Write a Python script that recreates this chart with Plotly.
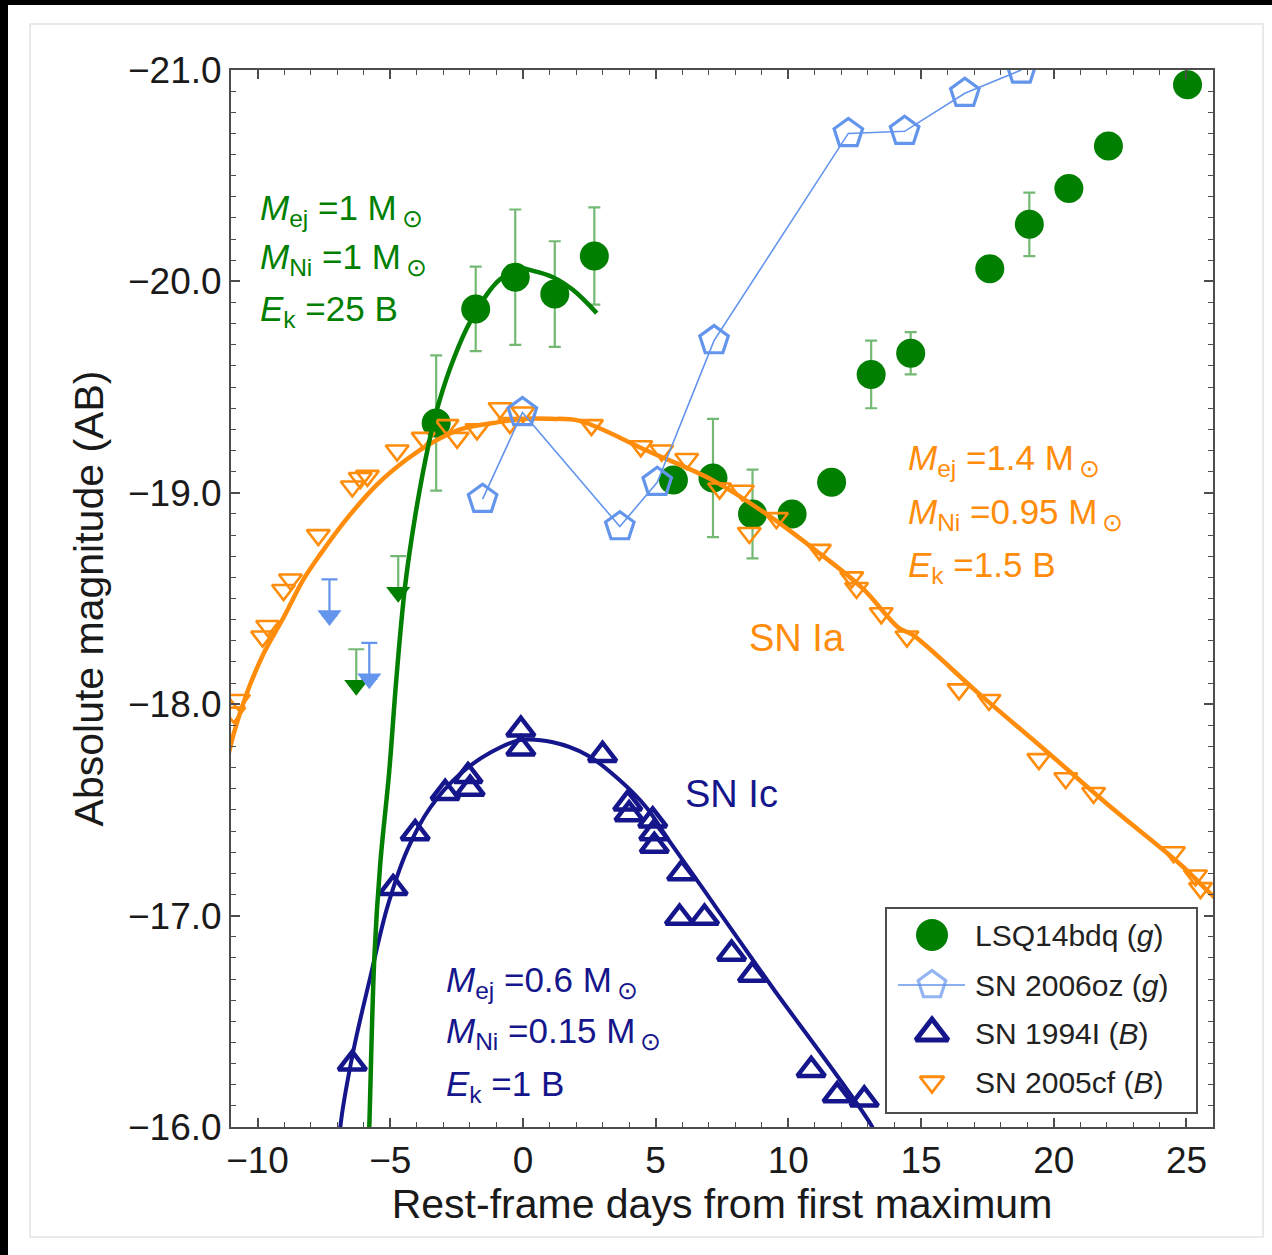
import plotly.graph_objects as go

# ---------------- data ----------------
# LSQ14bdq (g band): rest-frame days, absolute magnitude, 1-sigma errors (0 = none shown)
lsq_days = [-3.27, -1.78, -0.29, 1.20, 2.69, 5.67, 7.16, 8.65, 10.14, 11.63,
            13.12, 14.61, 17.59, 19.08, 20.57, 22.06, 25.04]
lsq_mag = [-19.33, -19.87, -20.02, -19.94, -20.12, -19.06, -19.07, -18.90, -18.90, -19.05,
           -19.56, -19.66, -20.06, -20.27, -20.44, -20.64, -20.93]
lsq_err = [0.32, 0.20, 0.32, 0.25, 0.23, 0, 0.28, 0.21, 0, 0,
           0.16, 0.10, 0, 0.15, 0, 0, 0]

# LSQ14bdq pre-discovery upper limits
lsq_lim_days = [-4.70, -6.28]
lsq_lim_mag = [-18.70, -18.26]

# SN 2006oz (g band)
oz_days = [-1.52, -0.02, 3.65, 5.06, 7.20, 12.26, 14.38, 16.65, 18.78]
oz_mag = [-18.97, -19.38, -18.84, -19.05, -19.72, -20.70, -20.71, -20.89, -21.00]
oz_lim_days = [-7.29, -5.79]
oz_lim_mag = [-18.59, -18.29]

# SN 1994I (B band)
ic_days = [-6.43, -4.89, -4.06, -2.93, -2.07, -1.99, -0.08, -0.08, 3.00, 3.95, 4.00,
           4.89, 4.93, 4.95, 5.98, 5.90, 6.84, 7.86, 8.65, 10.86, 11.84, 12.86]
ic_mag = [-16.30, -17.13, -17.39, -17.58, -17.66, -17.60, -17.88, -17.79, -17.76, -17.53, -17.48,
          -17.45, -17.39, -17.33, -17.20, -16.99, -16.99, -16.82, -16.72, -16.27, -16.15, -16.13]

# SN 2005cf (B band)
ia_days = [-10.90, -10.72, -9.81, -9.62, -9.02, -8.76, -7.71, -6.43, -6.13, -5.86,
           -4.74, -3.76, -2.86, -2.48, -1.73, -0.86, -0.49, 0.00, 2.58, 4.44,
           5.23, 6.17, 7.41, 8.27, 8.53, 9.55, 11.17, 12.39, 12.57, 13.50,
           14.47, 16.43, 17.56, 19.44, 20.45, 21.50, 24.51, 25.34, 25.53]
ia_mag = [-17.96, -18.02, -18.32, -18.37, -18.54, -18.59, -18.80, -19.03, -19.07, -19.08,
          -19.20, -19.26, -19.32, -19.26, -19.30, -19.40, -19.33, -19.38, -19.32, -19.22,
          -19.20, -19.16, -19.02, -19.01, -18.81, -18.88, -18.73, -18.60, -18.55, -18.43,
          -18.32, -18.07, -18.02, -17.74, -17.65, -17.58, -17.30, -17.19, -17.13]

# Model light curves (sampled)
mod_lsq_days = [-5.82, -5.79, -5.60, -5.38, -5.04, -4.77, -4.44, -4.06, -3.57, -3.27, -2.74,
                -2.11, -1.35, -0.86, -0.11, 0.38, 1.13, 1.88, 2.78]
mod_lsq_mag = [-15.90, -16.00, -16.80, -17.24, -17.68, -18.12, -18.56, -18.89, -19.22, -19.38, -19.59,
               -19.78, -19.94, -20.01, -20.06, -20.05, -20.02, -19.96, -19.85]

mod_ic_days = [-6.92, -6.88, -6.39, -5.75, -5.11, -4.36, -3.50, -2.37, -1.24, -0.11, 1.13,
               2.41, 3.65, 4.66, 5.53, 6.77, 8.16, 9.40, 13.16, 13.30]
mod_ic_mag = [-15.85, -16.00, -16.36, -16.71, -17.04, -17.31, -17.51, -17.67, -17.77, -17.83, -17.82,
              -17.76, -17.64, -17.51, -17.35, -17.13, -16.88, -16.66, -16.00, -15.95]

mod_ia_days = [-11.2, -10.90, -10.38, -9.77, -9.02, -8.27, -7.63, -6.62, -5.49, -4.36, -3.38,
               -2.37, -1.13, 0.00, 1.02, 2.14, 4.66, 7.14, 9.17, 10.90, 12.78,
               14.17, 14.66, 17.18, 19.70, 22.18, 24.70, 25.94, 26.3]
mod_ia_mag = [-17.70, -17.86, -18.06, -18.24, -18.41, -18.59, -18.71, -18.88, -19.04, -19.16, -19.24,
              -19.30, -19.33, -19.35, -19.35, -19.34, -19.20, -19.06, -18.90, -18.74, -18.55,
              -18.36, -18.33, -18.05, -17.78, -17.51, -17.25, -17.10, -17.06]

legend_names = ["LSQ14bdq (<i>g</i>)", "SN 2006oz (<i>g</i>)", "SN 1994I (<i>B</i>)", "SN 2005cf (<i>B</i>)"]

# ---------------- style ----------------
GREEN = "#007F00"
GREEN_ERR = "rgba(0,128,0,0.55)"
LBLUE = "#6495ED"
NAVY = "#16168C"
ORANGE = "#FF8C0A"
AXIS = "#4d4d4d"
FONT = "Liberation Sans"
LIM_LEN = 0.17  # length of the upper-limit arrow stem (mag)

W, H = 1272, 1255
L, R, T, B = 231, 1213, 70, 1127   # plot-area edges in pixels


def px_x(px):
    return (px - L) / (R - L)


def px_y(py):
    return (B - py) / (B - T)


fig = go.Figure()

# SN Ic model and data
fig.add_trace(go.Scatter(x=mod_ic_days, y=mod_ic_mag, mode="lines",
                         line=dict(color=NAVY, width=4, shape="spline"), showlegend=False))
fig.add_trace(go.Scatter(x=ic_days, y=ic_mag, mode="markers",
                         marker=dict(symbol="triangle-up-open", size=24, color=NAVY,
                                     line=dict(width=4.5, color=NAVY)), showlegend=False))

# LSQ14bdq points with error bars
fig.add_trace(go.Scatter(x=lsq_days, y=lsq_mag, mode="markers",
                         marker=dict(symbol="circle", size=29, color=GREEN),
                         error_y=dict(type="data", array=lsq_err, color=GREEN_ERR,
                                      thickness=2.2, width=6),
                         showlegend=False))

# SN Ia model and data
fig.add_trace(go.Scatter(x=mod_ia_days, y=mod_ia_mag, mode="lines",
                         line=dict(color=ORANGE, width=4.5, shape="spline"), showlegend=False))
fig.add_trace(go.Scatter(x=ia_days, y=ia_mag, mode="markers",
                         marker=dict(symbol="triangle-down-open", size=20, color=ORANGE,
                                     line=dict(width=2.6, color=ORANGE)), showlegend=False))

# LSQ14bdq magnetar model
fig.add_trace(go.Scatter(x=mod_lsq_days, y=mod_lsq_mag, mode="lines",
                         line=dict(color=GREEN, width=4.5, shape="spline"), showlegend=False))

# upper limits: arrow stem from the limit down to a filled head
for d, m, col, ecol in [(lsq_lim_days, lsq_lim_mag, GREEN, GREEN_ERR),
                        (oz_lim_days, oz_lim_mag, LBLUE, LBLUE)]:
    fig.add_trace(go.Scatter(
        x=d, y=[v + LIM_LEN for v in m], mode="markers",
        marker=dict(symbol="triangle-down", size=21, color=col),
        error_y=dict(type="data", symmetric=False, array=[0] * len(m),
                     arrayminus=[LIM_LEN] * len(m), color=ecol, thickness=2.2, width=8),
        showlegend=False))

# SN 2006oz
fig.add_trace(go.Scatter(x=oz_days, y=oz_mag, mode="lines+markers",
                         line=dict(color=LBLUE, width=1.6),
                         marker=dict(symbol="pentagon-open", size=30, color=LBLUE,
                                     line=dict(width=3.2, color=LBLUE)), showlegend=False))

# ---------------- legend key (drawn on a small overlay subplot) ----------------
LG = (886, 908, 1197, 1113)         # box in pixels
LG_W, LG_H = LG[2] - LG[0], LG[3] - LG[1]
row_y = [27, 77, 125, 174]
sym_x, txt_x = 46, 87

fig.add_trace(go.Scatter(x=[sym_x], y=[row_y[0]], mode="markers", xaxis="x2", yaxis="y2",
                         marker=dict(symbol="circle", size=32, color=GREEN), showlegend=False))
fig.add_trace(go.Scatter(x=[12, sym_x, 79], y=[row_y[1]] * 3, mode="lines+markers", xaxis="x2", yaxis="y2",
                         line=dict(color=LBLUE, width=1.6),
                         marker=dict(symbol="pentagon-open", size=[0, 29, 0], color=LBLUE,
                                     line=dict(width=3.2, color=LBLUE)), showlegend=False))
fig.add_trace(go.Scatter(x=[sym_x], y=[row_y[2]], mode="markers", xaxis="x2", yaxis="y2",
                         marker=dict(symbol="triangle-up-open", size=28, color=NAVY,
                                     line=dict(width=5, color=NAVY)), showlegend=False))
fig.add_trace(go.Scatter(x=[sym_x], y=[row_y[3]], mode="markers", xaxis="x2", yaxis="y2",
                         marker=dict(symbol="triangle-down-open", size=21, color=ORANGE,
                                     line=dict(width=2.8, color=ORANGE)), showlegend=False))

annotations = []
for name, yy in zip(legend_names, row_y):
    annotations.append(dict(x=txt_x, y=yy, xref="x2", yref="y2", text=name, showarrow=False,
                            xanchor="left", yanchor="middle",
                            font=dict(family=FONT, size=30, color="#222222")))

# ---------------- model parameter labels ----------------
def param_lines(x0, ys, lines, color):
    for yy, txt in zip(ys, lines):
        annotations.append(dict(x=x0, y=yy, xref="x", yref="y", text=txt, showarrow=False,
                                xanchor="left", yanchor="middle",
                                font=dict(family=FONT, size=35, color=color)))


SUN = "<sub>\u2009\u2299</sub>"
param_lines(-10.0, [-20.34, -20.105, -19.86],
            ["<i>M</i><sub>ej</sub> =1 M" + SUN,
             "<i>M</i><sub>Ni</sub> =1 M" + SUN,
             "<i>E</i><sub>k</sub> =25 B"], GREEN)
param_lines(14.44, [-19.153, -18.90, -18.65],
            ["<i>M</i><sub>ej</sub> =1.4 M" + SUN,
             "<i>M</i><sub>Ni</sub> =0.95 M" + SUN,
             "<i>E</i><sub>k</sub> =1.5 B"], ORANGE)
param_lines(-2.97, [-16.687, -16.445, -16.194],
            ["<i>M</i><sub>ej</sub> =0.6 M" + SUN,
             "<i>M</i><sub>Ni</sub> =0.15 M" + SUN,
             "<i>E</i><sub>k</sub> =1 B"], NAVY)

annotations.append(dict(x=8.46, y=-18.315, xref="x", yref="y", text="SN Ia", showarrow=False,
                        xanchor="left", yanchor="middle", font=dict(family=FONT, size=38, color=ORANGE)))
annotations.append(dict(x=6.02, y=-17.577, xref="x", yref="y", text="SN Ic", showarrow=False,
                        xanchor="left", yanchor="middle", font=dict(family=FONT, size=38, color=NAVY)))

# ---------------- page decorations ----------------
shapes = [
    # black strips along the top and left edges of the page
    dict(type="rect", xref="paper", yref="paper", x0=px_x(-5), x1=px_x(W + 5), y0=px_y(5), y1=px_y(-5),
         fillcolor="black", line=dict(width=0), layer="below"),
    dict(type="rect", xref="paper", yref="paper", x0=px_x(-5), x1=px_x(8), y0=px_y(H + 5), y1=px_y(-5),
         fillcolor="black", line=dict(width=0), layer="below"),
    # faint frame around the graphic
    dict(type="rect", xref="paper", yref="paper", x0=px_x(30), x1=px_x(1263), y0=px_y(1237), y1=px_y(24),
         line=dict(color="#e4e4e4", width=1.5), layer="below"),
    # legend box
    dict(type="rect", xref="paper", yref="paper", x0=px_x(LG[0]), x1=px_x(LG[2]),
         y0=px_y(LG[3]), y1=px_y(LG[1]), line=dict(color="#4d4d4d", width=2), layer="above"),
]

axis_common = dict(showline=True, linecolor=AXIS, linewidth=2, mirror="ticks",
                   ticks="inside", ticklen=9, tickwidth=1.5, tickcolor=AXIS,
                   showgrid=False, zeroline=False,
                   tickfont=dict(family=FONT, size=37, color="#1a1a1a"))

fig.update_layout(
    width=W, height=H, autosize=False,
    margin=dict(l=L, r=W - R, t=T, b=H - B, pad=0),
    paper_bgcolor="white", plot_bgcolor="white",
    font=dict(family=FONT),
    xaxis=dict(range=[-11, 26], dtick=5, tick0=0,
               minor=dict(dtick=1, ticks="inside", ticklen=5, tickcolor=AXIS, tickwidth=1),
               title=dict(text="Rest-frame days from first maximum", standoff=8,
                          font=dict(family=FONT, size=41, color="#1a1a1a")),
               **axis_common),
    yaxis=dict(range=[-16, -21], dtick=1, tick0=-21, tickformat=".1f",
               minor=dict(dtick=0.1, ticks="inside", ticklen=5, tickcolor=AXIS, tickwidth=1),
               title=dict(text="Absolute magnitude (AB)", standoff=12,
                          font=dict(family=FONT, size=41, color="#1a1a1a")),
               **axis_common),
    xaxis2=dict(domain=[px_x(LG[0]), px_x(LG[2])], range=[0, LG_W], anchor="y2", visible=False),
    yaxis2=dict(domain=[px_y(LG[3]), px_y(LG[1])], range=[LG_H, 0], anchor="x2", visible=False),
    shapes=shapes,
    annotations=annotations,
)

fig.write_html("out.html")
